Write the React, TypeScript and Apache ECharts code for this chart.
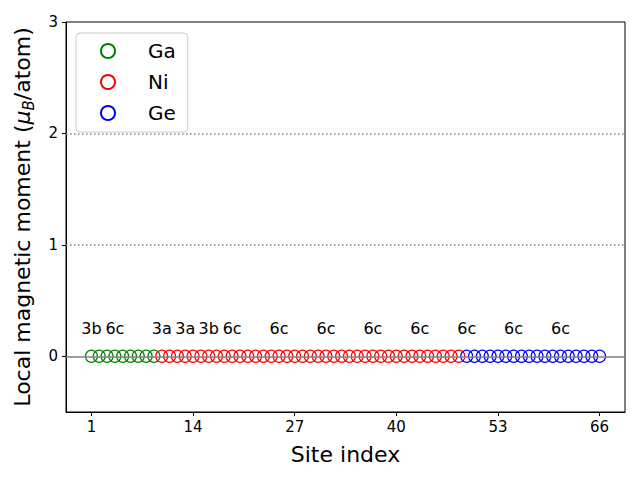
import React, { useEffect, useRef } from "react";
import * as echarts from "echarts";

const gaSites = [1, 2, 3, 4, 5, 6, 7, 8, 9];
const gaMoments = [0, 0, 0, 0, 0, 0, 0, 0, 0];
const niSites = [10, 11, 12, 13, 14, 15, 16, 17, 18, 19, 20, 21, 22, 23, 24, 25, 26, 27, 28, 29, 30, 31, 32, 33, 34, 35, 36, 37, 38, 39, 40, 41, 42, 43, 44, 45, 46, 47, 48];
const niMoments = [0, 0, 0, 0, 0, 0, 0, 0, 0, 0, 0, 0, 0, 0, 0, 0, 0, 0, 0, 0, 0, 0, 0, 0, 0, 0, 0, 0, 0, 0, 0, 0, 0, 0, 0, 0, 0, 0, 0];
const geSites = [49, 50, 51, 52, 53, 54, 55, 56, 57, 58, 59, 60, 61, 62, 63, 64, 65, 66];
const geMoments = [0, 0, 0, 0, 0, 0, 0, 0, 0, 0, 0, 0, 0, 0, 0, 0, 0, 0];

const wyckoffSites = [1, 4, 10, 13, 16, 19, 25, 31, 37, 43, 49, 55, 61];
const wyckoffLabels = ["3b", "6c", "3a", "3a", "3b", "6c", "6c", "6c", "6c", "6c", "6c", "6c", "6c"];
const wyckoffY = 0.25;

const xTicks = [1, 14, 27, 40, 53, 66];
const yTicks = [0, 1, 2, 3];
const refLines = [1, 2];

const FONT = "DejaVu Sans";

export default function App() {
  const ref = useRef<HTMLDivElement>(null);
  useEffect(() => {
    if (!ref.current) return;
    const chart = echarts.init(ref.current, undefined, { renderer: "svg" });
    const mk = (name: string, xs: number[], ys: number[], color: string) => ({
      name,
      type: "scatter",
      symbol: "circle",
      symbolSize: 12,
      itemStyle: { color: "transparent", borderColor: color, borderWidth: 1.2, opacity: 1 },
      data: xs.map((x, i) => [x, ys[i]]),
      z: 3,
    });
    chart.setOption({
      animation: false,
      textStyle: { fontFamily: FONT },
      grid: {
        left: 66, right: 15, top: 22, bottom: 68,
        show: true, borderColor: "#000", borderWidth: 1, backgroundColor: "transparent",
      },
      legend: {
        left: 76, top: 33, orient: "vertical",
        data: ["Ga", "Ni", "Ge"],
        itemWidth: 14, itemHeight: 14, itemGap: 11,
        padding: [8, 12, 9, 24],
        borderColor: "#cccccc", borderWidth: 1, borderRadius: 4,
        backgroundColor: "rgba(255,255,255,0.8)",
        textStyle: { fontSize: 20, color: "#000", fontFamily: FONT, padding: [0, 0, 0, 28] },
      },
      xAxis: {
        type: "value", min: -2.25, max: 69.25,
        name: "Site index", nameLocation: "middle", nameGap: 31,
        nameTextStyle: { fontSize: 22, color: "#000", fontFamily: FONT },
        axisLine: { show: true, onZero: false, lineStyle: { color: "#000", width: 1 } },
        axisTick: { show: true, length: 4, customValues: xTicks, lineStyle: { color: "#000" } },
        axisLabel: { customValues: xTicks, fontSize: 15, color: "#000", margin: 7, fontFamily: FONT },
        splitLine: { show: false },
      },
      yAxis: {
        type: "value", min: -0.5, max: 3,
        name: "Local magnetic moment ({it|μ}{sub|B}/atom)",
        nameLocation: "middle", nameGap: 30, nameRotate: 90,
        nameTextStyle: {
          fontSize: 22, color: "#000", fontFamily: FONT,
          rich: {
            it: { fontSize: 22, fontStyle: "italic", color: "#000", fontFamily: FONT },
            sub: { fontSize: 15, fontStyle: "italic", color: "#000", fontFamily: FONT, padding: [12, 0, 0, 0] },
          },
        },
        axisLine: { show: true, onZero: false, lineStyle: { color: "#000", width: 1 } },
        axisTick: { show: true, length: 4, customValues: yTicks, lineStyle: { color: "#000" } },
        axisLabel: { customValues: yTicks, fontSize: 15, color: "#000", margin: 8, fontFamily: FONT },
        splitLine: { show: false },
      },
      series: [
        {
          type: "line",
          data: [],
          silent: true,
          markLine: {
            symbol: "none", silent: true, label: { show: false },
            lineStyle: { color: "#808080", width: 1.5, type: [1.5, 2.5] },
            data: refLines.map((v) => ({ yAxis: v })),
          },
        },
        {
          type: "line",
          data: [],
          silent: true,
          markLine: {
            symbol: "none", silent: true, label: { show: false },
            lineStyle: { color: "#808080", width: 1.5, type: "solid" },
            data: [{ yAxis: 0 }],
          },
        },
        mk("Ga", gaSites, gaMoments, "#008000"),
        mk("Ni", niSites, niMoments, "#ff0000"),
        mk("Ge", geSites, geMoments, "#0000ff"),
        {
          type: "scatter",
          symbolSize: 0,
          silent: true,
          itemStyle: { opacity: 1 },
          data: wyckoffSites.map((x, i) => ({ value: [x, wyckoffY], name: wyckoffLabels[i] })),
          label: {
            show: true, position: "inside", formatter: "{b}",
            fontSize: 16, color: "#000", fontFamily: FONT, opacity: 1,
          },
          z: 4,
        },
      ],
    });
    return () => chart.dispose();
  }, []);
  return <div ref={ref} style={{ width: 640, height: 480, position: "absolute", left: 0, top: 0 }} />;
}
